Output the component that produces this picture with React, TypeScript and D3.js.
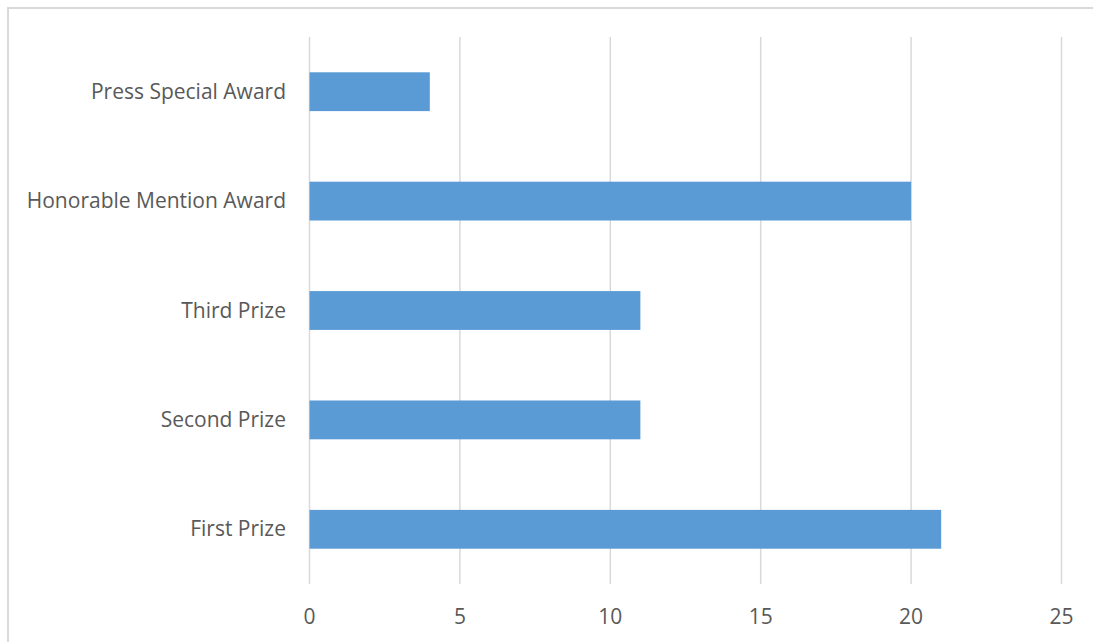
import React from "react";
import * as d3 from "d3";

const categories = ["Press Special Award", "Honorable Mention Award", "Third Prize", "Second Prize", "First Prize"];
const values = [4, 20, 11, 11, 21];
const xTicks = [0, 5, 10, 15, 20, 25];

const W = 1093;
const H = 642;
const plot = { left: 309.5, right: 1061.5, top: 37, bottom: 584 };
const FONT = "'Open Sans', 'Liberation Sans', sans-serif";
const TEXT = "#595959";

export default function App() {
  const x = d3.scaleLinear().domain([0, 25]).range([plot.left, plot.right]);
  const y = d3
    .scaleBand<string>()
    .domain(categories)
    .range([plot.top, plot.bottom])
    .paddingInner(0.645)
    .paddingOuter(0.3225);

  return (
    <svg
      width={W}
      height={H}
      style={{ position: "absolute", left: 0, top: 0, background: "#fff" }}
    >
      <rect x={8} y={8} width={W} height={H} fill="#fff" stroke="#d9d9d9" strokeWidth={2} />
      {xTicks.map((t) => (
        <line
          key={"g" + t}
          x1={x(t)}
          x2={x(t)}
          y1={plot.top}
          y2={plot.bottom}
          stroke="#d9d9d9"
          strokeWidth={1.5}
        />
      ))}
      {categories.map((c, i) => (
        <rect
          key={c}
          x={x(0)}
          y={y(c)}
          width={x(values[i]) - x(0)}
          height={y.bandwidth()}
          fill="#5b9bd5"
        />
      ))}
      {categories.map((c) => (
        <text
          key={"l" + c}
          x={286}
          y={(y(c) as number) + y.bandwidth() / 2 - 1}
          textAnchor="end"
          dominantBaseline="central"
          fontFamily={FONT}
          fontSize={21}
          fill={TEXT}
        >
          {c}
        </text>
      ))}
      {xTicks.map((t) => (
        <text
          key={"t" + t}
          x={x(t)}
          y={616}
          textAnchor="middle"
          dominantBaseline="central"
          fontFamily={FONT}
          fontSize={21}
          fill={TEXT}
        >
          {t}
        </text>
      ))}
    </svg>
  );
}
